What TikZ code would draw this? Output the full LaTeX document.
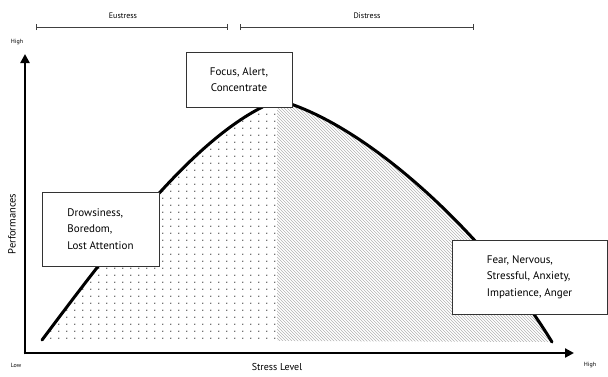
\documentclass[tikz,border=0pt]{standalone}
\usepackage{fontspec}
\setsansfont{PT Sans}
\usetikzlibrary{arrows.meta,patterns,patterns.meta}

\tikzdeclarepattern{
  name=sparsedots,
  type=uncolored,
  bottom left={(0pt,0pt)},
  top right={(8.3pt,7.3pt)},
  tile size={(8.3pt,7.3pt)},
  code={\fill (2pt,2pt) circle (0.75pt);}
}

\newcommand{\stresscurve}{(42,340) .. controls (120,236) and (200,130) .. (278,100)
  .. controls (370,125) and (490,240) .. (552,342)}

\begin{document}
\begin{tikzpicture}[x=1pt, y=-1pt, font=\sffamily,
    mood/.style={draw=black!80, fill=white, line width=0.8pt, align=left,
                 font=\sffamily\fontsize{11}{16.5}\selectfont},
    axis/.style={line width=2.6pt, -{Triangle[length=9pt, width=9pt]}},
    span/.style={draw=black!75, line width=0.8pt, |-|},
    tiny/.style={font=\sffamily\fontsize{6}{7}\selectfont},
  ]
  \useasboundingbox (0,0) rectangle (608,376);

  % zonas rellenas bajo la curva
  \begin{scope}
    \clip (0,0) rectangle (277,338);
    \fill[pattern=sparsedots, pattern color=black!75] \stresscurve -- cycle;
  \end{scope}
  \begin{scope}
    \clip (277,0) rectangle (608,343);
    \fill[pattern=north west lines, pattern color=black!30] \stresscurve -- cycle;
  \end{scope}

  % curva
  \draw[line width=3pt, line cap=round] \stresscurve;

  % ejes
  \coordinate (origin) at (25,353);
  \coordinate (ytip) at (25,54);
  \coordinate (xtip) at (574,353);
  \draw[axis] ([yshift=-1.3pt]origin) -- (ytip);
  \draw[axis] ([xshift=-1.3pt]origin) -- (xtip);
  \node[tiny] (high-y) at (17,42) {High};
  \node[tiny] (low) at (16,365) {Low};
  \node[tiny] (high-x) at (590,365) {High};
  \node[font=\sffamily\fontsize{10}{11}\selectfont] (xlabel) at (277,367) {Stress Level};
  \node[font=\sffamily\fontsize{10.5}{11}\selectfont, rotate=90] (ylabel) at (12,224) {Performances};

  % tramos superiores
  \coordinate (eu-a) at (36,27);
  \coordinate (eu-b) at (228,27);
  \coordinate (di-a) at (240,27);
  \coordinate (di-b) at (474,27);
  \draw[span] (eu-a) -- (eu-b);
  \draw[span] (di-a) -- (di-b);
  \node[font=\sffamily\fontsize{8}{9}\selectfont] (eustress) at (123,16) {Eustress};
  \node[font=\sffamily\fontsize{8}{9}\selectfont] (distress) at (367,16) {Distress};

  % cajas de estado
  \node[mood, align=center, minimum width=106pt, minimum height=55pt] (focus) at (239,79.5)
    {Focus, Alert,\\Concentrate};
  \node[mood, minimum width=117pt, minimum height=74pt] (bored) at (100.5,229)
    {Drowsiness,\\Boredom,\\Lost Attention};
  \node[mood, minimum width=155pt, minimum height=74pt] (fear) at (529.5,277)
    {Fear, Nervous,\\Stressful, Anxiety,\\Impatience, Anger};
\end{tikzpicture}
\end{document}
